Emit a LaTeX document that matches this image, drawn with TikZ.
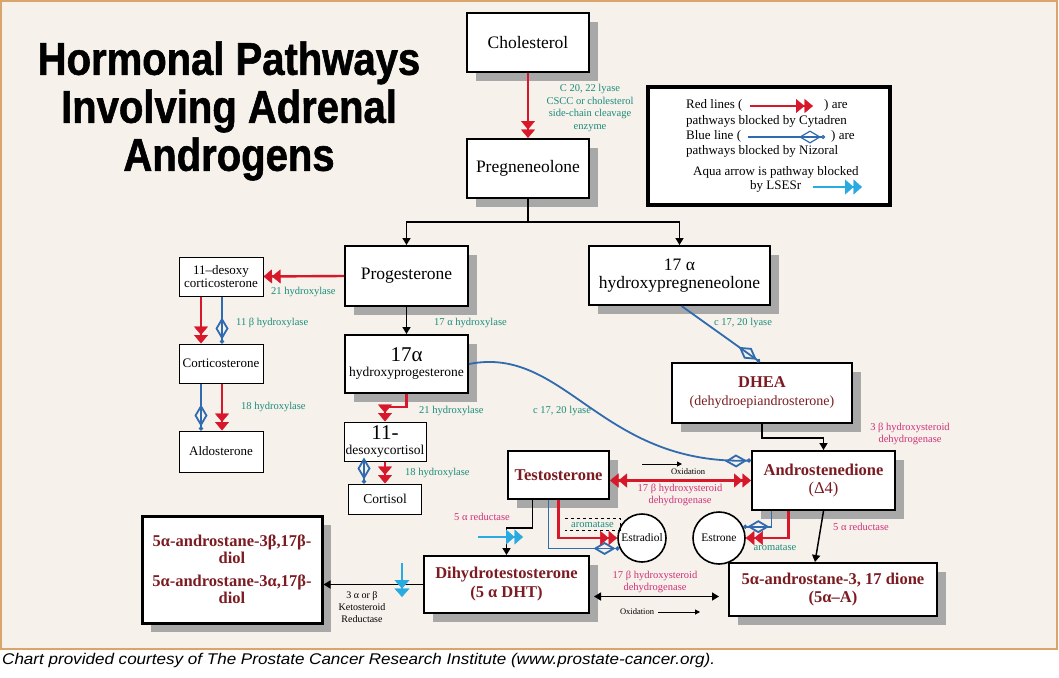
\documentclass[tikz,border=0pt]{standalone}
\usepackage{fontspec}
\setmainfont{Liberation Serif}
\newfontfamily\titlefont[FakeStretch=0.87,FakeBold=1.2]{Liberation Sans}
\newfontfamily\capfont[FakeStretch=1.1]{Liberation Sans}
\usetikzlibrary{arrows.meta,shadows,calc}
\definecolor{cream}{HTML}{F6F1EA}
\definecolor{tanc}{HTML}{D8A66B}
\definecolor{shadowgray}{HTML}{A8A8A8}
\definecolor{dred}{HTML}{7B1C22}
\definecolor{redA}{HTML}{D7182A}
\definecolor{blueN}{HTML}{2F6BAE}
\definecolor{tealc}{HTML}{1A8C7C}
\definecolor{magc}{HTML}{D0307A}
\definecolor{aquac}{HTML}{29ABE2}
\newcommand\fsBig{\fontsize{17.5}{18}\selectfont}
\newcommand\fsName{\fontsize{16.5}{18}\selectfont}
\newcommand\fsSmall{\fontsize{13}{13.5}\selectfont}
\newcommand\fsLab{\fontsize{10.5}{11.5}\selectfont}
\newcommand\fsTiny{\fontsize{8.5}{9}\selectfont}
\tikzset{
  box/.style={draw=black, line width=2pt, fill=white, inner sep=0pt, align=center, font=\fsBig},
  shad/.style={drop shadow={shadow xshift=9pt, shadow yshift=-9pt, fill=shadowgray, opacity=1}},
  sbox/.style={draw=black, line width=1pt, fill=white, inner sep=0pt, align=center, font=\fsSmall},
  namebox/.style={box, text=dred, font=\fsName\bfseries},
  circ/.style={circle, draw=black, line width=1.6pt, fill=white, inner sep=0pt, font=\fontsize{11.5}{12}\selectfont},
  lab/.style={text=tealc, font=\fsLab, inner sep=1pt, align=center},
  mlab/.style={text=magc, font=\fsLab, inner sep=1pt, align=center},
  redarr/.style={draw=redA, line width=2.4pt, -{Triangle[length=8.5pt,width=14pt,line width=0.4pt] Triangle[length=8.5pt,width=14pt,line width=0.4pt]}},
  redboth/.style={draw=redA, line width=2.4pt, {Triangle[length=8.5pt,width=14pt,line width=0.4pt] Triangle[length=8.5pt,width=14pt,line width=0.4pt]}-{Triangle[length=8.5pt,width=14pt,line width=0.4pt] Triangle[length=8.5pt,width=14pt,line width=0.4pt]}},
  bluearr/.style={draw=blueN, line width=1.8pt, -{Diamond[open,length=22pt,width=13pt] Circle[open,length=4pt,width=4pt]}},
  aquaarr/.style={draw=aquac, line width=2.4pt, -{Triangle[length=8.5pt,width=15pt,line width=0.4pt] Triangle[length=8.5pt,width=15pt,line width=0.4pt]}},
  blkarr/.style={draw=black, line width=1.5pt, -{Triangle[length=7pt,width=8pt]}},
  blkboth/.style={draw=black, line width=1.5pt, {Triangle[length=7pt,width=8pt]}-{Triangle[length=7pt,width=8pt]}},
  smallarr/.style={draw=black, line width=1pt, -{Triangle[length=5pt,width=5pt]}},
}
\begin{document}
\begin{tikzpicture}[x=1pt,y=-1pt]
\useasboundingbox (0,0) rectangle (1059,677);
\fill[white] (0,0) rectangle (1059,677);
\fill[cream] (1,1) rectangle (1057,649);
\draw[tanc, line width=2pt] (1,1) rectangle (1057,649);

% title
\node[font=\titlefont\bfseries\fontsize{46}{48}\selectfont, align=center, inner sep=0pt] (title) at (229,111) {Hormonal Pathways\\Involving Adrenal\\Androgens};

% caption
\node[anchor=mid west, font=\capfont\itshape\fontsize{15.5}{17}\selectfont, inner sep=0pt] (cap) at (2,662) {Chart provided courtesy of The Prostate Cancer Research Institute (www.prostate-cancer.org).};

% legend
\node[draw=black, line width=4pt, fill=white, minimum width=242pt, minimum height=118pt, inner sep=0pt] (legend) at (769,146) {};
\node[anchor=mid west, font=\fontsize{13}{14}\selectfont, inner sep=0pt] (lg1a) at (686,106) {Red lines (};
\node[anchor=mid west, font=\fontsize{13}{14}\selectfont, inner sep=0pt] (lg1b) at (824,106) {) are};
\node[anchor=mid west, font=\fontsize{13}{14}\selectfont, inner sep=0pt] (lg2) at (686,122) {pathways blocked by Cytadren};
\node[anchor=mid west, font=\fontsize{13}{14}\selectfont, inner sep=0pt] (lg3a) at (686,137) {Blue line (};
\node[anchor=mid west, font=\fontsize{13}{14}\selectfont, inner sep=0pt] (lg3b) at (831,137) {) are};
\node[anchor=mid west, font=\fontsize{13}{14}\selectfont, inner sep=0pt] (lg4) at (686,152) {pathways blocked by Nizoral};
\node[anchor=mid west, font=\fontsize{13}{14}\selectfont, inner sep=0pt] (lg5) at (693,173) {Aqua arrow is pathway blocked};
\node[anchor=mid west, font=\fontsize{13}{14}\selectfont, inner sep=0pt] (lg6) at (750,187) {by LSESr};
\coordinate (lr1) at (750,106); \coordinate (lr2) at (813,106);
\draw[redarr, line width=1.5pt] (lr1) -- (lr2);
\coordinate (lb1) at (748,137); \coordinate (lb2) at (825,137);
\draw[bluearr, line width=1.2pt] (lb1) -- (lb2);
\coordinate (la1) at (813,187); \coordinate (la2) at (862,187);
\draw[aquaarr, line width=1.8pt] (la1) -- (la2);

% main boxes
\node[box,shad,minimum width=122pt,minimum height=59pt] (chol) at (528,42.5) {Cholesterol};
\node[box,shad,minimum width=122pt,minimum height=59pt] (preg) at (528,168.5) {Pregneneolone};
\node[box,shad,minimum width=123pt,minimum height=60pt] (prog) at (406.5,276) {Progesterone};
\node[box,shad,minimum width=181pt,minimum height=59pt] (hpreg) at (679.5,275.5) {17 α\\hydroxypregneneolone};
\node[box,shad,minimum width=123pt,minimum height=58pt,font=\fontsize{13.5}{15}\selectfont] (hprog) at (406.5,364) {{\fontsize{21}{21}\selectfont 17α}\\hydroxyprogesterone};
\node[sbox,minimum width=84pt,minimum height=39pt] (desoxyc) at (221,276.5) {11–desoxy\\corticosterone};
\node[sbox,minimum width=84pt,minimum height=39pt] (cortico) at (221,363.5) {Corticosterone};
\node[sbox,minimum width=84pt,minimum height=41pt] (aldo) at (221,451.5) {Aldosterone};
\node[sbox,minimum width=82pt,minimum height=39pt,font=\fontsize{13.5}{15}\selectfont] (dcort) at (385,441.5) {{\fontsize{21}{21}\selectfont 11-}\\desoxycortisol};
\node[sbox,minimum width=73pt,minimum height=30pt,font=\fontsize{13.5}{14}\selectfont] (cortisol) at (385,499) {Cortisol};
\node[namebox,shad,minimum width=180pt,minimum height=60pt] (dhea) at (762,393) {DHEA\\{\mdseries\fontsize{14}{18}\selectfont (dehydroepiandrosterone)}};
\node[namebox,shad,minimum width=143pt,minimum height=59pt] (andro) at (823.5,480.5) {Androstenedione\\{\mdseries (Δ4)}};
\node[namebox,shad,minimum width=101pt,minimum height=48pt] (testo) at (558.5,475) {Testosterone};
\node[namebox,shad,minimum width=165pt,minimum height=57pt,font=\fontsize{16.5}{19}\selectfont\bfseries] (dht) at (506.5,584.5) {Dihydrotestosterone\\(5 α DHT)};
\node[namebox,shad,minimum width=208pt,minimum height=53pt] (adione) at (833,589.5) {5α-androstane-3, 17 dione\\(5α–A)};
\node[namebox,shad,line width=3pt,minimum width=180pt,minimum height=107pt,font=\fontsize{16.5}{16.5}\selectfont\bfseries] (diol) at (232,569.5) {5α-androstane-3β,17β-\\diol\\[7pt]5α-androstane-3α,17β-\\diol};
\node[circ,minimum size=48pt] (estradiol) at (642,538) {Estradiol};
\node[circ,minimum size=52pt] (estrone) at (719,538) {Estrone};
\node[inner sep=0pt, minimum width=55pt, minimum height=11pt, text=tealc, font=\fsLab] (arom) at (592.5,524.5) {aromatase};
\draw[dashed, line width=1pt] (arom.north west) -- (arom.north east) -- (arom.south east) -- (arom.south west);

% connectors
\draw[redarr] (chol.south) -- (preg.north);
\coordinate (split) at (528,222);
\draw[line width=1.5pt] (preg.south) -- (split);
\draw[blkarr] (split) -| (prog.north);
\draw[blkarr] (split) -| (hpreg.north);

\draw[redarr] (prog.west) -- (desoxyc.east);
\draw[redarr] ([xshift=-20pt]desoxyc.south) -- ([xshift=-20pt]cortico.north);
\draw[bluearr] ([xshift=1pt]desoxyc.south) -- ([xshift=1pt]cortico.north);
\draw[bluearr] ([xshift=-20pt]cortico.south) -- ([xshift=-20pt]aldo.north);
\draw[redarr] ([xshift=1pt]cortico.south) -- ([xshift=1pt]aldo.north);

\draw[blkarr] (prog.south) -- (hprog.north);
\draw[redarr] (hprog.south) -- ++(0,13) -| (dcort.north);
\draw[bluearr] ([xshift=-21pt]dcort.south) -- ([xshift=-21pt]cortisol.north);
\draw[redarr] (dcort.south) -- (cortisol.north);

\draw[bluearr] ([xshift=2pt]hpreg.south) -- ([xshift=-2pt]dhea.north);
\draw[bluearr] (hprog.east) .. controls (565,345) and (600,465) .. ([yshift=20pt]andro.west);
\draw[blkarr] (dhea.south) -- ++(0,14) -| (andro.north);

\draw[redboth] (testo.east |- andro.west) -- (andro.west);
\coordinate (ox1s) at (642,464); \coordinate (ox1e) at (682,464);
\draw[smallarr] (ox1s) -- (ox1e);

\draw[blkarr] ([xshift=-26pt]testo.south) -- ++(0,28) -| (dht.north);
\coordinate (aq1s) at (478,537); \coordinate (aq1e) at (523,537);
\draw[aquaarr] (aq1s) -- (aq1e);

\draw[bluearr] ([xshift=-10pt]testo.south) |- (estradiol.205);
\draw[redarr] (testo.south) |- (estradiol.west);

\draw[bluearr] ([xshift=-52pt]andro.south) |- (estrone.25);
\draw[redarr] ([xshift=-35pt]andro.south) |- (estrone.east);

\draw[blkarr] (andro.south) -- ([xshift=-18pt]adione.north);

\coordinate (h1) at ([yshift=-12pt]dht.east);
\draw[blkboth, shorten <=4pt, shorten >=9pt] (h1) -- (h1 -| adione.west);
\coordinate (ox2s) at (658,612); \coordinate (ox2e) at (700,612);
\draw[smallarr] (ox2s) -- (ox2e);

\draw[blkarr] (dht.west) -- (dht.west -| diol.east);
\coordinate (aq2s) at (402,563); \coordinate (aq2e) at (402,597);
\draw[aquaarr] (aq2s) -- (aq2e);

% labels
\node[lab, font=\fontsize{10.5}{12.7}\selectfont] (l1) at (590,108) {C 20, 22 lyase\\CSCC or cholesterol\\side-chain cleavage\\enzyme};
\node[lab, anchor=west] (l2) at (270,292) {21 hydroxylase};
\node[lab, anchor=west] (l3) at (235,323) {11 β hydroxylase};
\node[lab, anchor=west] (l4) at (240,407) {18 hydroxylase};
\node[lab, anchor=west] (l5) at (433,323) {17 α hydroxylase};
\node[lab, anchor=west] (l6) at (418,411) {21 hydroxylase};
\node[lab, anchor=west] (l7) at (404,473) {18 hydroxylase};
\node[lab, anchor=west] (l8) at (713,323) {c 17, 20 lyase};
\node[lab, anchor=west] (l9) at (532,411) {c 17, 20 lyase};
\node[mlab] (l10) at (910,434) {3 β hydroxysteroid\\dehydrogenase};
\node[font=\fsTiny, inner sep=1pt] (l11) at (688,472) {Oxidation};
\node[mlab] (l12) at (680,495) {17 β hydroxysteroid\\dehydrogenase};
\node[mlab] (l13) at (482,517) {5 α reductase};
\node[lab] (l14) at (775,548) {aromatase};
\node[mlab, anchor=west] (l15) at (832,527) {5 α reductase};
\node[mlab] (l16) at (655,582) {17 β hydroxysteroid\\dehydrogenase};
\node[font=\fsTiny, inner sep=1pt] (l17) at (637,612) {Oxidation};
\node[font=\fontsize{10}{12}\selectfont, align=center, inner sep=1pt] (l18) at (362,607) {3 α or β\\Ketosteroid\\Reductase};
\end{tikzpicture}
\end{document}
